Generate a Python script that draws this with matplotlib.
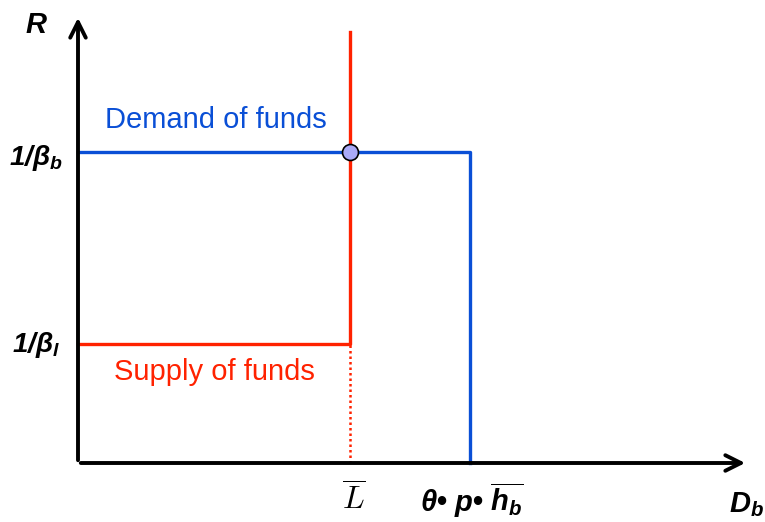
import matplotlib.pyplot as plt
from matplotlib.patches import FancyArrowPatch

# levels and quantities (in drawing units)
R_borrow = 311      # 1/beta_b
R_lend = 119        # 1/beta_l
L_bar = 272         # fixed supply of funds
D_max = 392         # theta*p*h_b, max demand
supply_top = 431
x_end = 670
y_end = 448

blue = '#0a4fd6'
red = '#ff2200'

plt.rcParams['mathtext.fontset'] = 'custom'
plt.rcParams['mathtext.rm'] = 'Liberation Sans:bold:italic'
plt.rcParams['mathtext.it'] = 'Liberation Sans:bold:italic'
plt.rcParams['mathtext.bf'] = 'Liberation Sans:bold:italic'
plt.rcParams['font.family'] = ['Liberation Sans', 'DejaVu Sans']

fig = plt.figure(figsize=(7.65, 5.22), dpi=100)
ax = fig.add_axes([0, 0, 1, 1])
ax.set_xlim(-78, 687)
ax.set_ylim(-59, 463)
ax.axis('off')

# axes with arrows
for end in [(x_end, 0), (0, y_end)]:
    ax.add_patch(FancyArrowPatch((0, 0), end, arrowstyle='->', mutation_scale=28,
                                 lw=2.8, color='black', zorder=5))

# demand of funds
ax.plot([0, D_max, D_max], [R_borrow, R_borrow, 0], color=blue, lw=2.4, zorder=3)
# supply of funds
ax.plot([0, L_bar, L_bar], [R_lend, R_lend, supply_top], color=red, lw=2.4, zorder=3)
ax.plot([L_bar, L_bar], [0, R_lend], color=red, lw=1.8, ls=(0, (1, 1.2)), zorder=2)
# equilibrium
ax.plot([L_bar], [R_borrow], 'o', ms=11.5, mfc='#aaaaf8', mec='black', mew=1.2, zorder=6)

ax.text(138, 343, 'Demand of funds', color=blue, fontsize=21, ha='center', va='center')
ax.text(136, 91, 'Supply of funds', color=red, fontsize=21, ha='center', va='center')

ax.text(-42, 438, r'$R$', fontsize=21, ha='center', va='center')
ax.text(-42, 305, r'$1/\beta_b$', fontsize=20, ha='center', va='center')
ax.text(-42, 118, r'$1/\beta_l$', fontsize=20, ha='center', va='center')
ax.text(276, -37, r'$\overline{L}$', fontsize=23, ha='center', va='center', math_fontfamily='cm')
ax.text(394, -37, r'$\theta$• $p$• $\overline{h_b}$', fontsize=21, fontweight='bold',
        ha='center', va='center')
ax.text(668, -42, r'$D_b$', fontsize=21, ha='center', va='center')

fig.savefig('out.png', dpi=100)
